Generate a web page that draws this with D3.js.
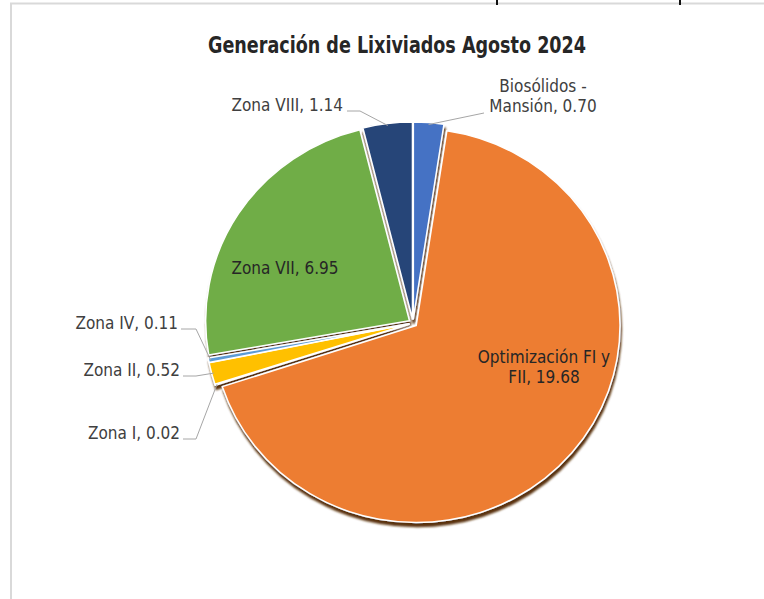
<!DOCTYPE html>
<html>
<head>
<meta charset="utf-8">
<script src="https://cdn.jsdelivr.net/npm/d3@7"></script>
<style>
  body { margin: 0; background: #fff; }
  svg text { font-family: "Liberation Sans Narrow", "Arial Narrow", "DejaVu Sans Condensed", sans-serif; }
</style>
</head>
<body>
<div id="chart"></div>
<script>
// data
const categories = ["Biosólidos - Mansión", "Optimización FI y FII", "Zona I", "Zona II", "Zona IV", "Zona VII", "Zona VIII"];
const values = [0.70, 19.68, 0.02, 0.52, 0.11, 6.95, 1.14];
const colors = ["#4472C4", "#ED7D31", "#A5A5A5", "#FFC000", "#5B9BD5", "#70AD47", "#264478"];
const labelLines = [
  ["Biosólidos -", "Mansión, 0.70"],
  ["Optimización FI y", "FII, 19.68"],
  ["Zona I, 0.02"],
  ["Zona II, 0.52"],
  ["Zona IV, 0.11"],
  ["Zona VII, 6.95"],
  ["Zona VIII, 1.14"]
];

// label layout (x, y of first baseline, anchor, leader start)
const labelLayout = [
  { x: 543, y: 92, anchor: "middle", lead: [[484, 113]] },
  { x: 544, y: 363, anchor: "middle", lead: null },
  { x: 180, y: 439, anchor: "end", lead: [[183, 439], [196, 439]] },
  { x: 180, y: 376, anchor: "end", lead: [[183, 376], [196, 376]] },
  { x: 178, y: 329, anchor: "end", lead: [[181, 329], [196, 329]] },
  { x: 285, y: 274, anchor: "middle", lead: null },
  { x: 343, y: 111, anchor: "end", lead: [[347, 111], [360, 111]] }
];

const width = 764, height = 599;
const cx = 413, cy = 323, r = 197, sx = 1.035, explode = 4;

const svg = d3.select("#chart").append("svg")
  .attr("width", width)
  .attr("height", height);

// frame pieces from the screenshot
svg.append("line").attr("x1", 10).attr("x2", width).attr("y1", 3.5).attr("y2", 3.5)
  .attr("stroke", "#d9d9d9").attr("stroke-width", 2);
svg.append("line").attr("x1", 11).attr("x2", 11).attr("y1", 3).attr("y2", height)
  .attr("stroke", "#d9d9d9").attr("stroke-width", 2);
[497, 680].forEach(x => svg.append("line").attr("x1", x).attr("x2", x).attr("y1", 0).attr("y2", 5)
  .attr("stroke", "#111").attr("stroke-width", 2));

svg.append("text")
  .attr("x", 397).attr("y", 53)
  .attr("text-anchor", "middle")
  .attr("font-size", 23).attr("font-weight", "bold")
  .attr("textLength", 378).attr("lengthAdjust", "spacingAndGlyphs")
  .attr("fill", "#262626")
  .text("Generación de Lixiviados Agosto 2024");

const defs = svg.append("defs");
const f = defs.append("filter").attr("id", "shadow").attr("x", "-10%").attr("y", "-10%").attr("width", "120%").attr("height", "120%");
f.append("feDropShadow").attr("dx", 1).attr("dy", 4).attr("stdDeviation", 1)
  .attr("flood-color", "#5a3010").attr("flood-opacity", 1);

const data = categories.map((c, i) => ({ name: c, value: values[i], i }));
const pie = d3.pie().sort(null).value(d => d.value).startAngle(0);
const arcs = pie(data);
const arc = d3.arc().innerRadius(0).outerRadius(r);
const edge = d3.arc().innerRadius(r - 2).outerRadius(r - 2);

const g = svg.append("g")
  .attr("transform", `translate(${cx},${cy}) scale(${sx},1)`)
  .attr("filter", "url(#shadow)");

const off = d => {
  const m = (d.startAngle + d.endAngle) / 2;
  return [Math.sin(m) * explode, -Math.cos(m) * explode];
};

g.selectAll("path")
  .data(arcs)
  .join("path")
  .attr("transform", d => `translate(${off(d)})`)
  .attr("d", arc)
  .attr("fill", d => colors[d.data.i])
  .attr("stroke", "#fff")
  .attr("stroke-width", 1.5)
  .attr("stroke-linejoin", "round");

// leader lines
const toScreen = d => {
  const [ex, ey] = edge.centroid(d);
  const [ox, oy] = off(d);
  return [cx + (ex + ox) * sx, cy + ey + oy];
};
const line = d3.line();
arcs.forEach(d => {
  const L = labelLayout[d.data.i];
  if (!L.lead) return;
  svg.append("path")
    .attr("d", line([...L.lead, toScreen(d)]))
    .attr("fill", "none")
    .attr("stroke", "#a6a6a6")
    .attr("stroke-width", 1);
});

// labels
arcs.forEach(d => {
  const L = labelLayout[d.data.i];
  const inside = !L.lead;
  const t = svg.append("text")
    .attr("text-anchor", L.anchor)
    .attr("font-size", 17)
    .attr("fill", inside ? "#262626" : "#404040");
  labelLines[d.data.i].forEach((s, k) => {
    t.append("tspan").attr("x", L.x).attr("y", L.y + k * 20).text(s);
  });
});
</script>
</body>
</html>
